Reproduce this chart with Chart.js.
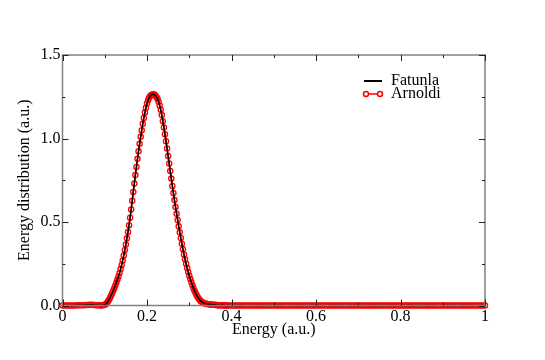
<!DOCTYPE html>
<html>
<head>
<meta charset="utf-8">
<script src="https://cdn.jsdelivr.net/npm/chart.js@4.4.1/dist/chart.umd.min.js"></script>
<style>
  html, body { margin: 0; padding: 0; background: #fff; }
  #wrap { width: 545px; height: 360px; }
</style>
</head>
<body>
<div id="wrap"><canvas id="chart" width="545" height="360"></canvas></div>
<script>
/**************** Data ************************************************/

// energy grid (a.u.), finer around the peak
const energy = [
  0.000, 0.005, 0.010, 0.015, 0.020, 0.025, 0.030, 0.035, 0.040, 0.045,
  0.050, 0.055, 0.060, 0.065, 0.070, 0.075, 0.080, 0.085, 0.090,
  0.0925, 0.0950, 0.0975, 0.1000, 0.1025, 0.1050, 0.1075, 0.1100, 0.1125, 0.1150,
  0.1175, 0.1200, 0.1225, 0.1250, 0.1275, 0.1300, 0.1325, 0.1350, 0.1375, 0.1400,
  0.1425, 0.1450, 0.1475, 0.1500, 0.1525, 0.1550, 0.1575, 0.1600, 0.1625, 0.1650,
  0.1675, 0.1700, 0.1725, 0.1750, 0.1775, 0.1800, 0.1825, 0.1850, 0.1875, 0.1900,
  0.1925, 0.1950, 0.1975, 0.2000, 0.2025, 0.2050, 0.2075, 0.2100, 0.2125, 0.2150,
  0.2175, 0.2200, 0.2225, 0.2250, 0.2275, 0.2300, 0.2325, 0.2350, 0.2375, 0.2400,
  0.2425, 0.2450, 0.2475, 0.2500, 0.2525, 0.2550, 0.2575, 0.2600, 0.2625, 0.2650,
  0.2675, 0.2700, 0.2725, 0.2750, 0.2775, 0.2800, 0.2825, 0.2850, 0.2875, 0.2900,
  0.2925, 0.2950, 0.2975, 0.3000, 0.3025, 0.3050, 0.3075, 0.3100, 0.3125, 0.3150,
  0.3175, 0.3200, 0.3225, 0.3250, 0.3275, 0.3300, 0.3325, 0.3350, 0.3375, 0.3400,
  0.3425, 0.3450, 0.3475, 0.3500, 0.3525, 0.3550, 0.3575, 0.3600, 0.3625, 0.3650,
  0.3675, 0.3700, 0.3725, 0.3750, 0.3775, 0.3800, 0.3825, 0.3850, 0.3875, 0.3900,
  0.395, 0.400, 0.405, 0.410, 0.415, 0.420, 0.425, 0.430, 0.435, 0.440,
  0.445, 0.450, 0.455, 0.460, 0.465, 0.470, 0.475, 0.480, 0.485, 0.490,
  0.495, 0.500, 0.505, 0.510, 0.515, 0.520, 0.525, 0.530, 0.535, 0.540,
  0.545, 0.550, 0.555, 0.560, 0.565, 0.570, 0.575, 0.580, 0.585, 0.590,
  0.595, 0.600, 0.605, 0.610, 0.615, 0.620, 0.625, 0.630, 0.635, 0.640,
  0.645, 0.650, 0.655, 0.660, 0.665, 0.670, 0.675, 0.680, 0.685, 0.690,
  0.695, 0.700, 0.705, 0.710, 0.715, 0.720, 0.725, 0.730, 0.735, 0.740,
  0.745, 0.750, 0.755, 0.760, 0.765, 0.770, 0.775, 0.780, 0.785, 0.790,
  0.795, 0.800, 0.805, 0.810, 0.815, 0.820, 0.825, 0.830, 0.835, 0.840,
  0.845, 0.850, 0.855, 0.860, 0.865, 0.870, 0.875, 0.880, 0.885, 0.890,
  0.895, 0.900, 0.905, 0.910, 0.915, 0.920, 0.925, 0.930, 0.935, 0.940,
  0.945, 0.950, 0.955, 0.960, 0.965, 0.970, 0.975, 0.980, 0.985, 0.990,
  0.995, 1.000
];

// Arnoldi energy distribution (a.u.)
const arnoldi = [
  0.000, 0.000, 0.000, 0.000, 0.000, 0.000, 0.000, 0.001, 0.001, 0.002,
  0.002, 0.003, 0.003, 0.004, 0.004, 0.003, 0.002, 0.001, 0.000,
  0.001, 0.002, 0.003, 0.004, 0.008, 0.015, 0.024, 0.035, 0.047, 0.060,
  0.074, 0.089, 0.104, 0.120, 0.137, 0.155, 0.174, 0.195, 0.218, 0.243,
  0.270, 0.300, 0.332, 0.366, 0.402, 0.440, 0.481, 0.525, 0.575, 0.627,
  0.680, 0.731, 0.781, 0.830, 0.878, 0.924, 0.968, 1.010, 1.050, 1.088,
  1.123, 1.155, 1.184, 1.209, 1.229, 1.244, 1.255, 1.261, 1.264, 1.265,
  1.263, 1.258, 1.249, 1.236, 1.220, 1.198, 1.172, 1.140, 1.104, 1.066,
  1.026, 0.984, 0.940, 0.895, 0.850, 0.805, 0.760, 0.716, 0.673, 0.631,
  0.590, 0.550, 0.512, 0.475, 0.439, 0.404, 0.370, 0.337, 0.306, 0.277,
  0.250, 0.224, 0.200, 0.178, 0.158, 0.139, 0.121, 0.104, 0.089, 0.075,
  0.062, 0.051, 0.041, 0.033, 0.026, 0.021, 0.017, 0.014, 0.012, 0.010,
  0.009, 0.008, 0.007, 0.006, 0.005, 0.005, 0.004, 0.004, 0.003, 0.003,
  0.002, 0.002, 0.002, 0.001, 0.001, 0.001, 0.001, 0.000, 0.000, 0.000,
  0.000, 0.000, 0.000, 0.000, 0.000, 0.000, 0.000, 0.000, 0.000, 0.000,
  0.000, 0.000, 0.000, 0.000, 0.000, 0.000, 0.000, 0.000, 0.000, 0.000,
  0.000, 0.000, 0.000, 0.000, 0.000, 0.000, 0.000, 0.000, 0.000, 0.000,
  0.000, 0.000, 0.000, 0.000, 0.000, 0.000, 0.000, 0.000, 0.000, 0.000,
  0.000, 0.000, 0.000, 0.000, 0.000, 0.000, 0.000, 0.000, 0.000, 0.000,
  0.000, 0.000, 0.000, 0.000, 0.000, 0.000, 0.000, 0.000, 0.000, 0.000,
  0.000, 0.000, 0.000, 0.000, 0.000, 0.000, 0.000, 0.000, 0.000, 0.000,
  0.000, 0.000, 0.000, 0.000, 0.000, 0.000, 0.000, 0.000, 0.000, 0.000,
  0.000, 0.000, 0.000, 0.000, 0.000, 0.000, 0.000, 0.000, 0.000, 0.000,
  0.000, 0.000, 0.000, 0.000, 0.000, 0.000, 0.000, 0.000, 0.000, 0.000,
  0.000, 0.000, 0.000, 0.000, 0.000, 0.000, 0.000, 0.000, 0.000, 0.000,
  0.000, 0.000, 0.000, 0.000, 0.000, 0.000, 0.000, 0.000, 0.000, 0.000,
  0.000, 0.000
];

// Fatunla curve lies on top of the Arnoldi one at this resolution
const fatunla = arnoldi.slice();

const seriesNames = ['Fatunla', 'Arnoldi'];
const xTicks = [0, 0.2, 0.4, 0.6, 0.8, 1];
const yTicks = [0, 0.5, 1.0, 1.5];

const FONT = 'Liberation Serif';


/**************** Frame + inward ticks + legend *************************/

const framePlugin = {
    id: 'frame',
    afterDraw(chart) {
        const ctx = chart.ctx;
        const a = chart.chartArea;
        const xs = chart.scales.x;
        const ys = chart.scales.y;

        ctx.save();
        // gray box
        ctx.strokeStyle = '#808080';
        ctx.lineWidth = 1.5;
        ctx.strokeRect(a.left, a.top, a.right - a.left, a.bottom - a.top);

        // ticks point inward, on all four sides
        ctx.strokeStyle = '#222';
        ctx.lineWidth = 1;
        ctx.beginPath();
        for (let i = 0; i <= 10; i++) {
            const v = i / 10;
            const len = (i % 2 === 0) ? 6 : 3;
            const px = Math.round(xs.getPixelForValue(v)) + 0.5;
            ctx.moveTo(px, a.bottom); ctx.lineTo(px, a.bottom - len);
            ctx.moveTo(px, a.top);    ctx.lineTo(px, a.top + len);
        }
        for (let i = 0; i <= 6; i++) {
            const v = i * 0.25;
            const len = (i % 2 === 0) ? 6 : 3;
            const py = Math.round(ys.getPixelForValue(v)) + 0.5;
            ctx.moveTo(a.left, py);  ctx.lineTo(a.left + len, py);
            ctx.moveTo(a.right, py); ctx.lineTo(a.right - len, py);
        }
        ctx.stroke();

        // legend
        const lx = 364, ly = 81;
        ctx.font = '16px "' + FONT + '"';
        ctx.textBaseline = 'middle';
        ctx.fillStyle = '#000';

        ctx.strokeStyle = '#000';
        ctx.lineWidth = 2;
        ctx.beginPath();
        ctx.moveTo(lx, ly); ctx.lineTo(lx + 18, ly);
        ctx.stroke();
        ctx.fillText(seriesNames[0], lx + 27, ly);

        const ly2 = ly + 13;
        ctx.strokeStyle = '#ff0000';
        ctx.lineWidth = 1.5;
        ctx.beginPath();
        ctx.moveTo(lx, ly2); ctx.lineTo(lx + 18, ly2);
        ctx.stroke();
        ctx.fillStyle = '#fff';
        [lx + 2, lx + 16].forEach(cx => {
            ctx.beginPath();
            ctx.arc(cx, ly2, 2.5, 0, Math.PI * 2);
            ctx.fill();
            ctx.stroke();
        });
        ctx.fillStyle = '#000';
        ctx.fillText(seriesNames[1], lx + 27, ly2);

        ctx.restore();
    }
};


/**************** Chart *************************/

const toPoints = vals => energy.map((e, i) => ({ x: e, y: vals[i] }));

new Chart(document.getElementById('chart'), {
    type: 'line',
    data: {
        datasets: [
            {
                label: seriesNames[0],
                data: toPoints(fatunla),
                borderColor: '#000',
                borderWidth: 1.5,
                pointRadius: 0,
                order: 0,
                clip: false
            },
            {
                label: seriesNames[1],
                data: toPoints(arnoldi),
                borderColor: '#ff0000',
                borderWidth: 1.5,
                pointRadius: 2.6,
                pointBorderWidth: 1.3,
                pointBorderColor: '#ff0000',
                pointBackgroundColor: 'rgba(255,255,255,0)',
                order: 1,
                clip: false
            }
        ]
    },
    options: {
        responsive: false,
        animation: false,
        events: [],
        layout: { padding: { left: 0, right: 60, top: 55, bottom: 0 } },
        plugins: {
            legend: { display: false },
            tooltip: { enabled: false }
        },
        scales: {
            x: {
                type: 'linear',
                min: 0, max: 1,
                afterFit: s => { s.height = 54.5; },
                afterBuildTicks: s => { s.ticks = xTicks.map(v => ({ value: v })); },
                grid: { display: false, drawTicks: false },
                border: { display: false },
                ticks: {
                    color: '#000',
                    padding: 2,
                    font: { family: FONT, size: 16 },
                    callback: v => (v === 0 || v === 1) ? String(v) : v.toFixed(1)
                },
                title: {
                    display: true,
                    text: 'Energy (a.u.)',
                    color: '#000',
                    font: { family: FONT, size: 16 },
                    padding: { top: 0, bottom: 21 }
                }
            },
            y: {
                type: 'linear',
                min: 0, max: 1.5,
                afterFit: s => { s.width = 62.5; },
                afterBuildTicks: s => { s.ticks = yTicks.map(v => ({ value: v })); },
                grid: { display: false, drawTicks: false },
                border: { display: false },
                ticks: {
                    color: '#000',
                    padding: 2,
                    font: { family: FONT, size: 16 },
                    callback: v => v.toFixed(1)
                },
                title: {
                    display: true,
                    text: 'Energy distribution (a.u.)',
                    color: '#000',
                    font: { family: FONT, size: 16 },
                    padding: { top: 15, bottom: 0 }
                }
            }
        }
    },
    plugins: [framePlugin]
});
</script>
</body>
</html>
